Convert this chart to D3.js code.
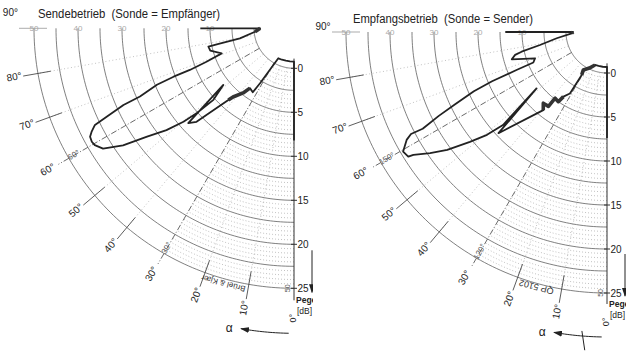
<!DOCTYPE html>
<html><head><meta charset="utf-8">
<script src="https://cdn.jsdelivr.net/npm/d3@7"></script>
<style>body{margin:0;background:#fff}svg{display:block}</style>
</head><body><svg id="c" width="626" height="351"></svg>
<script>
// ---------- data ----------
const sendTitle = "Sendebetrieb  (Sonde = Empfänger)";
const recvTitle = "Empfangsbetrieb  (Sonde = Sender)";

// Sendebetrieb trace: angle alpha (deg) and level (dB)
const sendAngles = [0,0,7,14,21,27.6, 31.7,32.2,32.8,36.4,38.2,41.6,42.5, 46.2,48.1,51.3,
  48.4,48.9,49.8,51.4,53.6,55.6,57.8,59.6,60.7, 62,62.9,64.1,64.7,65.8,66.1,67.6,68.1,68.2,69.1,70.9,
  75.1,77.9,78.3,79.5,85,90,90];
const sendLevels = [8.2,-0.75,-0.75,-0.75,-0.72,-0.7, 2.8,3.3,4.1,3.9,4.8,5.9,6.5, 10.8,11.6,5.75,
  7.7,10.1,11.9,14.0,16.2,19.0,21.1,21.7,21.8, 21.7,21.3,20.6,19.0,16.7,14.6,12.3,10.2,8.2,6.1,4.15,
  5.3,5.4,4.2,1.7,-0.1,-0.7,6.1];
const sendHeavy = [[9,12],[40,41]];

// Empfangsbetrieb trace
const recvAngles = [0,0,7,14,20,26,32,30.5,30.9,31.1,34,34.9,38.1,38.2,41.8,39.2,47,51.3,
  48.2,49.4,51.3,53.6,55.6,57.6,57.9,59.6,61.7,62.5,62.3,63.5,64.5,66,66.8,67.2,67.5,69.9,
  74,76,77,79,82.9,87.9,90,90];
const recvLevels = [7.4,-0.68,-0.68,-0.68,-0.67,-0.1,0.43,1.0,2.8,3.5,4.2,5.0,4.9,6.1,6.2,6.8,12.2,5.6,
  11.2,13.3,15.3,17.9,19.7,21.4,22.0,22.2,21.2,20.45,19.0,16.7,14.55,11.9,9.55,6.5,4.4,4.05,
  6.6,6.1,5.3,3.1,1.1,-0.65,-0.8,6.9];
const recvHeavy = [[4,7],[10,15],[41,42]];

const levelTicks = [0,5,10,15,20,25];
const levelGrid = [0,2.5,5,7.5,10,12.5,15,17.5,20,22.5,25];
const angleTicks = [0,10,20,30,40,50,60,70,80,90];
const angleTickLabels = ["0°","10°","20°","30°","40°","50°","60°","70°","80°","90°"];
const dashedAngles = [30,60];
const paperScale = [10,20,30,40,50];
const sendPaperAngles = [["30°",30],["60°",60]];
const recvPaperAngles = [["120°",30],["150°",60]];

// ---------- layout ----------
const panels = [
  {title:sendTitle, cx:294, cy:28.3, r0:40, tx:38, ty:18, tLen:182, angles:sendAngles, levels:sendLevels,
   heavy:sendHeavy, paper:sendPaperAngles, mark:"Brüel & Kjær", clip:[0,313], cross:false, a90:93},
  {title:recvTitle, cx:607, cy:32, r0:41, tx:353, ty:23, tLen:180, angles:recvAngles, levels:recvLevels,
   heavy:recvHeavy, paper:recvPaperAngles, mark:"QP 5102", clip:[313,626], cross:true, a90:91}
];

const svg = d3.select("#c");
const FONT = "'Liberation Sans', Arial, sans-serif";
const defs = svg.append("defs");
defs.append("marker").attr("id","arr").attr("markerUnits","userSpaceOnUse")
  .attr("markerWidth",9).attr("markerHeight",6).attr("refX",8).attr("refY",3).attr("orient","auto")
  .append("path").attr("d","M0,0 L9,3 L0,6 Z").attr("fill","#222");

const aScale = d3.scaleLinear().domain([0,90]).range([Math.PI, 1.5*Math.PI]);

panels.forEach((p,pi)=>{
  const rS = d3.scaleLinear().domain([0,25]).range([p.r0, p.r0+220]);
  const xy = (alpha, r)=>{const a=aScale(alpha); return [r*Math.sin(a), -r*Math.cos(a)];};
  const arcLine = d3.lineRadial().angle(d=>aScale(d[0])).radius(d=>d[1]);
  const trace = d3.lineRadial().angle(d=>aScale(d[0])).radius(d=>rS(d[1]));

  defs.append("clipPath").attr("id","cl"+pi).append("rect")
    .attr("x",p.clip[0]).attr("y",0).attr("width",p.clip[1]-p.clip[0]).attr("height",351);
  const outer = svg.append("g").attr("clip-path",`url(#cl${pi})`);
  const g = outer.append("g").attr("transform",`translate(${p.cx},${p.cy})`);

  // fine dotted arcs near 0°
  d3.range(0.5,25,0.5).filter(v=>Math.abs(v/2.5-Math.round(v/2.5))>1e-6).forEach(v=>{
    g.append("path").attr("d",arcLine(d3.range(0,30.01,1).map(a=>[a,rS(v)])))
      .attr("fill","none").attr("stroke","#999").attr("stroke-width",0.6).attr("stroke-dasharray","1,2");
  });
  // solid level arcs
  levelGrid.forEach(v=>{
    g.append("path").attr("d",arcLine(d3.range(0,90.01,1).map(a=>[a,rS(v)])))
      .attr("fill","none").attr("stroke","#555").attr("stroke-width",0.75);
  });
  // radial lines
  angleTicks.filter(a=>a>0&&a<90).forEach(a=>{
    const dashed = dashedAngles.includes(a);
    const p1 = xy(a,rS(0)), p2 = xy(a, dashed? 272 : rS(25));
    g.append("line").attr("x1",p1[0]).attr("y1",p1[1]).attr("x2",p2[0]).attr("y2",p2[1])
      .attr("stroke", dashed? "#444":"#999").attr("stroke-width", dashed?0.8:0.6)
      .attr("stroke-dasharray", dashed? "6,2,1,2":"1,2.5");
    if(!dashed){
      const q1 = xy(a,247), q2 = xy(a,275);
      g.append("line").attr("x1",q1[0]).attr("y1",q1[1]).attr("x2",q2[0]).attr("y2",q2[1])
        .attr("stroke","#333").attr("stroke-width",0.8);
    }
  });
  { const q1 = xy(90,247), q2 = xy(90,275);
    g.append("line").attr("x1",q1[0]).attr("y1",q1[1]).attr("x2",q2[0]).attr("y2",q2[1])
      .attr("stroke","#888").attr("stroke-width",0.7); }

  // angle labels
  angleTicks.forEach((a,i)=>{
    const la = a===90 ? p.a90 : a;
    const pos = xy(la, a===0 ? 290 : 284);
    g.append("text").attr("transform",`translate(${pos[0]},${pos[1]}) rotate(${a===90?0:a-90})`)
      .attr("text-anchor","middle").attr("dominant-baseline","middle")
      .attr("font-family",FONT).attr("font-size",a===0?9:10).attr("fill","#222").text(angleTickLabels[i]);
  });
  // printed paper labels
  p.paper.forEach(([t,a])=>{
    const pos = xy(a,254);
    g.append("text").attr("transform",`translate(${pos[0]},${pos[1]}) rotate(${a-90})`)
      .attr("text-anchor","middle").attr("dominant-baseline","middle")
      .attr("font-family",FONT).attr("font-size",8).attr("fill","#555").text(t);
  });
  paperScale.forEach(v=>{
    const pos = xy(90, rS(v/2));
    g.append("text").attr("x",pos[0]).attr("y",pos[1]+3).attr("text-anchor","middle")
      .attr("font-family",FONT).attr("font-size",8).attr("fill","#aaa").text(v);
  });
  { const pos = xy(1.2, rS(25));
    g.append("text").attr("transform",`translate(${pos[0]},${pos[1]}) rotate(-90)`)
      .attr("text-anchor","middle").attr("dominant-baseline","middle")
      .attr("font-family",FONT).attr("font-size",7).attr("fill","#555").text("50"); }
  { const pos = xy(15.5, 264);
    g.append("text").attr("transform",`translate(${pos[0]},${pos[1]}) rotate(195)`)
      .attr("text-anchor","middle").attr("dominant-baseline","middle")
      .attr("font-family",FONT).attr("font-size",p.cross?9:8).attr("fill","#333").text(p.mark); }

  // level axis
  g.append("line").attr("x1",0).attr("y1",rS(-1.1)).attr("x2",0).attr("y2",272)
    .attr("stroke","#333").attr("stroke-width",1);
  levelTicks.forEach(v=>{
    g.append("line").attr("x1",-3).attr("x2",3).attr("y1",rS(v)).attr("y2",rS(v))
      .attr("stroke","#333").attr("stroke-width",1);
    g.append("text").attr("x",3.5).attr("y",rS(v)+3.5).attr("font-family",FONT).attr("font-size",10)
      .attr("fill","#222").text(v);
  });
  g.append("line").attr("x1",18).attr("x2",18).attr("y1",222).attr("y2",264)
    .attr("stroke","#222").attr("stroke-width",1).attr("marker-end","url(#arr)");
  g.append("text").attr("x",2).attr("y",275).attr("font-family",FONT).attr("font-size",8.5)
    .attr("font-weight","bold").attr("fill","#222").text("Pegel");
  g.append("text").attr("x",3).attr("y",286).attr("font-family",FONT).attr("font-size",8.5)
    .attr("fill","#222").text("[dB]");

  // alpha arrow
  g.append("path").attr("d",arcLine(d3.range(1,10.01,0.5).map(a=>[a,305])))
    .attr("fill","none").attr("stroke","#222").attr("stroke-width",1).attr("marker-end","url(#arr)");
  { const pos = xy(12.2, 307);
    g.append("text").attr("x",pos[0]).attr("y",pos[1]+4).attr("text-anchor","middle")
      .attr("font-family",FONT).attr("font-size",12).attr("fill","#222").text("α"); }
  if(p.cross){
    const q1 = xy(4.8,300), q2 = xy(4.0,319);
    g.append("line").attr("x1",q1[0]).attr("y1",q1[1]).attr("x2",q2[0]).attr("y2",q2[1])
      .attr("stroke","#222").attr("stroke-width",1);
  }

  // trace
  const data = p.angles.map((a,i)=>[a,p.levels[i]]);
  g.append("path").attr("d",trace(data)).attr("fill","none").attr("stroke","#222")
    .attr("stroke-width",1.8).attr("stroke-linejoin","round");
  p.heavy.forEach(([i0,i1])=>{
    g.append("path").attr("d",trace(data.slice(i0,i1+1))).attr("fill","none").attr("stroke","#333")
      .attr("stroke-width",3.6).attr("stroke-linejoin","round");
  });

  // title
  svg.append("text").attr("x",p.tx).attr("y",p.ty).attr("font-family",FONT).attr("font-size",12)
    .attr("fill","#222").attr("textLength",p.tLen).attr("lengthAdjust","spacingAndGlyphs")
    .attr("xml:space","preserve").text(p.title);
});
</script>
</body></html>
